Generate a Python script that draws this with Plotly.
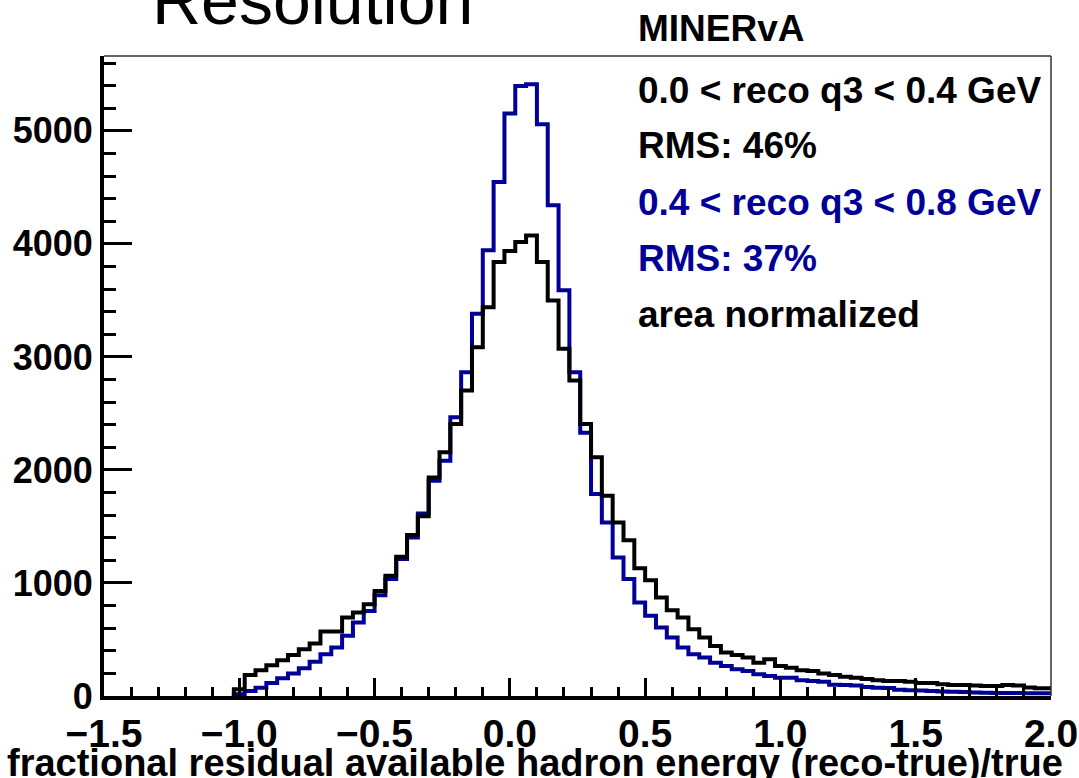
import numpy as np
import plotly.graph_objects as go

# Histogram binning: 76 bins of width 0.04, centred on multiples of 0.04
BIN_FIRST_CENTER = -1.00
BIN_WIDTH = 0.04

# 0.0 < reco q3 < 0.4 GeV (black)
low_q3 = [
    60, 186, 228, 272, 316, 363, 413, 464, 570, 570,
    694, 738, 812, 930, 1063, 1232, 1424, 1590, 1934, 2156,
    2407, 2702, 3086, 3440, 3839,
    3937, 4016, 4075, 3839, 3500, 3072, 2791, 2407, 2112, 1772,
    1536, 1379, 1131, 1025, 871, 759, 694, 591, 517, 443,
    384, 363, 340, 295, 325, 266, 251, 228, 222, 200,
    186, 170, 162, 150, 139, 133, 133, 125, 115, 115,
    105, 97, 97, 92, 89, 89, 97, 92, 75, 68,
    68,
]

# 0.4 < reco q3 < 0.8 GeV (blue)
high_q3 = [
    15, 44, 74, 115, 157, 198, 245, 304, 369, 428,
    532, 650, 753, 892, 1034, 1211, 1403, 1615, 1905, 2082,
    2466, 2865, 3382, 3943, 4548,
    5154, 5396, 5411, 5059, 4342, 3589, 2865, 2330, 1787, 1536,
    1226, 1034, 827, 709, 605, 517, 428, 369, 340, 295,
    266, 236, 222, 192, 177, 162, 162, 140, 133, 125,
    100, 97, 92, 80, 74, 70, 55, 50, 48, 45,
    40, 38, 36, 30, 28, 27, 27, 26, 25, 25,
    25,
]

legend_lines = [
    ("MINERvA", "#000000"),
    ("0.0 < reco q3 < 0.4 GeV", "#000000"),
    ("RMS: 46%", "#000000"),
    ("0.4 < reco q3 < 0.8 GeV", "#000099"),
    ("RMS: 37%", "#000099"),
    ("area normalized", "#000000"),
]

X_TITLE = "fractional residual available hadron energy (reco-true)/true"
X_RANGE = [-1.5, 2.0]
Y_RANGE = [0, 5662]

n_bins = len(low_q3)
edges = BIN_FIRST_CENTER - BIN_WIDTH / 2 + BIN_WIDTH * np.arange(n_bins + 1)


def step_xy(values):
    """Outline of a histogram: rises from zero at the first edge, falls at the last."""
    xs = [edges[0]] + list(edges[:-1]) + [edges[-1]]
    ys = [0] + list(values) + [0]
    return xs, ys


fig = go.Figure()
for vals, colour in [(high_q3, "#000099"), (low_q3, "#000000")]:
    xs, ys = step_xy(vals)
    fig.add_trace(go.Scatter(
        x=xs, y=ys, mode="lines", line=dict(shape="hv", color=colour, width=4),
        showlegend=False, hoverinfo="skip",
    ))

FONT = "Liberation Sans, Arial, sans-serif"

# plot area: x 104..1051 px, y 56..696 px
L, R, T, B = 104, 28, 56, 82
PW, PH = 1079 - L - R, 778 - T - B


def px_to_paper(px, py):
    return (px - L) / PW, (778 - B - py) / PH


fig.update_layout(
    width=1079, height=778, autosize=False,
    margin=dict(l=L, r=R, t=T, b=B),
    paper_bgcolor="white", plot_bgcolor="white",
    showlegend=False,
)

fig.update_xaxes(
    range=X_RANGE, showgrid=False, zeroline=False, automargin=False,
    showline=True, linecolor="black", linewidth=4,
    ticks="inside", ticklen=18, tickwidth=3, tickcolor="black",
    dtick=0.5, tick0=0, tickformat=".1f", ticklabelstandoff=0,
    minor=dict(dtick=0.1, ticklen=9, tickwidth=3, tickcolor="black", ticks="inside"),
    tickfont=dict(family=FONT, size=39, color="black", weight="bold"),
)
fig.update_yaxes(
    range=Y_RANGE, showgrid=False, zeroline=False, automargin=False,
    showline=True, linecolor="black", linewidth=4,
    ticks="inside", ticklen=28, tickwidth=3, tickcolor="black",
    dtick=1000, tick0=0,
    minor=dict(dtick=200, ticklen=12, tickwidth=3, tickcolor="black", ticks="inside"),
    tickfont=dict(family=FONT, size=36, color="black", weight="bold"),
)

# thin frame on top and right
fig.add_shape(type="line", xref="paper", yref="paper", x0=0, x1=1, y0=1, y1=1,
              line=dict(color="#333333", width=1.5))
fig.add_shape(type="line", xref="paper", yref="paper", x0=1, x1=1, y0=0, y1=1,
              line=dict(color="#333333", width=1.5))

# x-axis title, placed like the ROOT title (centre left of the axis middle)
tx, ty = px_to_paper(535, 763)
fig.add_annotation(
    text=X_TITLE, xref="paper", yref="paper", x=tx, y=ty,
    xanchor="center", yanchor="middle", showarrow=False,
    font=dict(family=FONT, size=38, color="black", weight="bold"),
)

# plot heading, partly above the page edge
hx, hy = px_to_paper(312, 0)
fig.add_annotation(
    text="Resolution", xref="paper", yref="paper", x=hx, y=hy,
    xanchor="center", yanchor="middle", showarrow=False,
    font=dict(family=FONT, size=68, color="black"),
)

# stacked text block on the right
line_y_px = [29, 90.5, 145.5, 202.5, 258.5, 314.5]
for (txt, colour), py in zip(legend_lines, line_y_px):
    ax, ay = px_to_paper(636, py)
    fig.add_annotation(
        text=txt, xref="paper", yref="paper", x=ax, y=ay,
        xanchor="left", yanchor="middle", showarrow=False,
        font=dict(family=FONT, size=37, color=colour, weight="bold"),
    )

fig.write_html("out.html")
